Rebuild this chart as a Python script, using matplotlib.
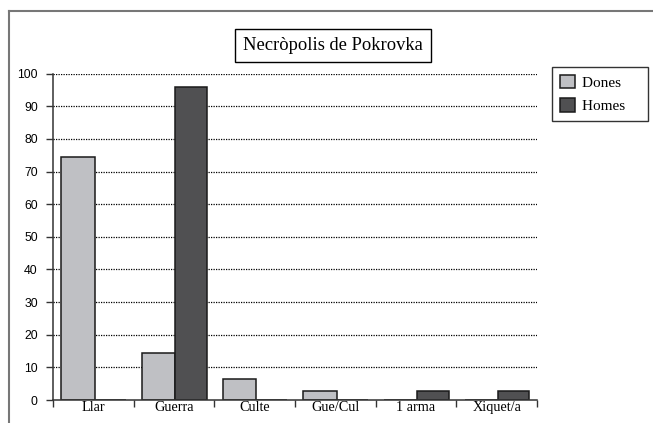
import numpy as np
import matplotlib.pyplot as plt
from matplotlib.lines import Line2D

categories = ['Llar', 'Guerra', 'Culte', 'Gue/Cul', '1 arma', 'Xiquet/a']
dones = [74.5, 14.5, 6.5, 2.8, 0, 0]
homes = [0, 96, 0, 0, 2.8, 2.8]
yticks = [0, 10, 20, 30, 40, 50, 60, 70, 80, 90, 100]

serif = ['Liberation Serif', 'DejaVu Serif']
sans = ['Liberation Sans', 'DejaVu Sans']

fig = plt.figure(figsize=(6.53, 4.23), dpi=100)
ax = fig.add_axes([53 / 653, 1 - 400 / 423, (537 - 53) / 653, (400 - 73.7) / 423])

x = np.arange(len(categories))
for y in yticks[1:]:
    ax.axhline(y, color='black', lw=0.9, ls=(0, (1, 1)), zorder=1)

b1 = ax.bar(x - 0.19, dones, width=0.41, color='#bfc0c4', edgecolor='#1a1a1a', lw=1.1, zorder=2)
b2 = ax.bar(x + 0.21, homes, width=0.39, color='#505052', edgecolor='#1a1a1a', lw=1.1, zorder=2)

ax.set_xlim(-0.5, len(categories) - 0.5)
ax.set_ylim(0, 100)
ax.set_yticks(yticks)
ax.set_yticklabels([str(v) for v in yticks], family=sans, fontsize=8.8)
ax.set_xticks(np.arange(-0.5, len(categories), 1.0))
ax.set_xticklabels([])
ax.set_xticks(x, minor=True)
ax.set_xticklabels(categories, minor=True, family=serif, fontsize=10.3)
ax.tick_params(axis='x', which='minor', length=0, pad=1)
ax.tick_params(axis='x', which='major', length=5, width=1, color='#333333')
ax.tick_params(axis='y', length=5, width=1, color='#333333', pad=6)

for s in ['top', 'right']:
    ax.spines[s].set_visible(False)
for s in ['left', 'bottom']:
    ax.spines[s].set_color('#333333')
    ax.spines[s].set_linewidth(1.1)

fig.text(333 / 653, 1 - 45.5 / 423, 'Necròpolis de Pokrovka', ha='center', va='center',
         family=serif, fontsize=13.3,
         bbox=dict(boxstyle='square,pad=0.42', fc='white', ec='black', lw=1))

leg = fig.legend([b1, b2], ['Dones    ', 'Homes    '], loc='upper left',
                 bbox_to_anchor=(552 / 653, 1 - 67 / 423),
                 prop={'family': serif, 'size': 11}, frameon=True, fancybox=False,
                 edgecolor='black', handlelength=1.0, handleheight=1.0, handletextpad=0.45,
                 borderpad=0.5, labelspacing=0.55, borderaxespad=0)
leg.get_frame().set_linewidth(1)

# outer frame
fig.add_artist(Line2D([9 / 653, 9 / 653], [0, 1 - 11 / 423], transform=fig.transFigure, color='#777777', lw=1.5))
fig.add_artist(Line2D([9 / 653, 1], [1 - 11 / 423, 1 - 11 / 423], transform=fig.transFigure, color='#777777', lw=1.5))

fig.savefig('out.png', dpi=100)
